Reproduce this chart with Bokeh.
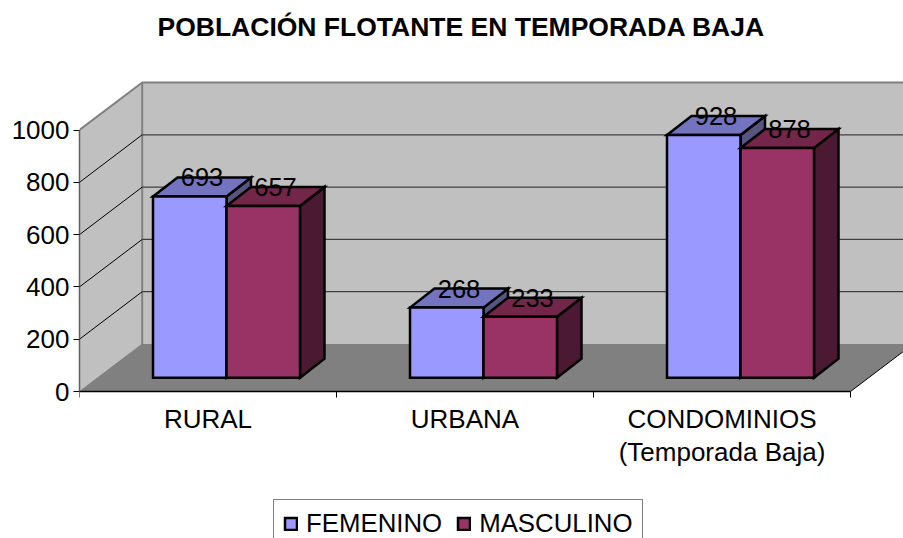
from bokeh.plotting import figure
from bokeh.embed import file_html
from bokeh.resources import INLINE
from bokeh.models import FixedTicker, Legend, LegendItem, Range1d, LinearAxis, Title
from bokeh.core.properties import value

TITLE = "POBLACIÓN FLOTANTE EN TEMPORADA BAJA"
categories = ["RURAL", "URBANA", "CONDOMINIOS\n(Temporada Baja)"]
femenino = [693, 268, 928]
masculino = [657, 233, 878]
y_ticks = [0, 200, 400, 600, 800, 1000]
series_names = ["FEMENINO", "MASCULINO"]

FONT = "Liberation Sans"
PX_X = 257.0      # px per category
PX_Y = 0.2615     # px per value unit
FRAME_W, FRAME_H = 824, 458
BELOW_ZERO = 147  # px of frame under the value 0

def dx(px):
    return px / PX_X

def dy(px):
    return px / PX_Y

WALL_DX, WALL_DY = dx(62.7), dy(47.5)
BAR_DX, BAR_DY = dx(24.5), dy(19)
BASE_DX, BASE_DY = dx(0), dy(13.8)
BAR_W = dx(73.5)
BAR_START = dx(73.5)

p = figure(width=903, height=538, output_backend="svg", toolbar_location=None,
           frame_width=FRAME_W, frame_height=FRAME_H,
           x_axis_location=None,
           x_range=Range1d(0, FRAME_W / PX_X), y_range=Range1d(-dy(BELOW_ZERO), dy(FRAME_H - BELOW_ZERO)),
           min_border_left=79, min_border_right=0, min_border_top=80, min_border_bottom=0,
           background_fill_color="white", border_fill_color="white")
p.outline_line_color = None
p.grid.visible = False

p.title.text = TITLE
p.title.text_font = FONT
p.title.text_font_style = "bold"
p.title.text_font_size = "26.5px"
p.title.text_color = "black"
p.title.align = "left"
p.title.offset = 78
p.title.standoff = 10
p.add_layout(Title(text=" ", text_font_size="26.5px", standoff=2), "above")

# Axes
xa = LinearAxis(fixed_location=0)
xa.bounds = (0, len(categories))
xa.ticker = FixedTicker(ticks=[i + 0.5 for i in range(len(categories))],
                        minor_ticks=list(range(len(categories) + 1)))
xa.major_label_overrides = {i + 0.5: c for i, c in enumerate(categories)}
xa.major_tick_out = 0
xa.major_tick_in = 0
xa.minor_tick_out = 6
xa.minor_tick_in = 0
xa.minor_tick_line_color = "black"
xa.axis_line_color = "black"
xa.axis_line_width = 1.5
xa.major_label_text_font = FONT
xa.major_label_text_font_size = "26px"
xa.major_label_text_color = "black"
xa.major_label_standoff = 6
xa.major_label_text_line_height = 1.12
p.add_layout(xa, "below")

ya = p.yaxis[0]
ya.bounds = (0, 1000)
ya.ticker = FixedTicker(ticks=y_ticks, minor_ticks=[])
ya.major_tick_out = 6
ya.major_tick_in = 0
ya.major_tick_line_color = "black"
ya.axis_line_color = "#606060"
ya.axis_line_width = 1.5
ya.major_label_text_font = FONT
ya.major_label_text_font_size = "26px"
ya.major_label_text_color = "black"
ya.major_label_standoff = 4

top = max(y_ticks)
n = len(categories)
x_end = FRAME_W / PX_X

# Walls and floor
p.patch([0, WALL_DX, WALL_DX, 0], [0, WALL_DY, top + WALL_DY, top],
        fill_color="#C0C0C0", line_color=None)
p.patch([WALL_DX, x_end, x_end, WALL_DX], [WALL_DY, WALL_DY, top + WALL_DY, top + WALL_DY],
        fill_color="#C0C0C0", line_color=None)
p.patch([0, n, n + WALL_DX, WALL_DX], [0, 0, WALL_DY, WALL_DY],
        fill_color="#808080", line_color=None)
p.line([0, WALL_DX, x_end], [top, top + WALL_DY, top + WALL_DY], line_color="#808080", line_width=2)
p.line([WALL_DX, WALL_DX], [WALL_DY, top + WALL_DY], line_color="#808080", line_width=2)
p.line([0, WALL_DX], [0, WALL_DY], line_color="#808080", line_width=1)
p.line([n, n + WALL_DX], [0, WALL_DY], line_color="black", line_width=1)

# Gridlines on the two walls
for v in y_ticks[1:-1]:
    p.line([0, WALL_DX], [v, v + WALL_DY], line_color="black", line_width=1)
    p.line([WALL_DX, x_end], [v + WALL_DY, v + WALL_DY], line_color="#404040", line_width=1.2)

styles = [
    dict(front="#9999FF", top="#7373BF", side="#555580"),
    dict(front="#993366", top="#732649", side="#4C1933"),
]
front_renderers = [None, None]
OUT = dict(line_color="black", line_width=2.5, line_join="miter")

for i in range(n):
    for s, vals in enumerate([femenino, masculino]):
        st = styles[s]
        v = vals[i]
        x0 = i + BAR_START + s * BAR_W + BASE_DX
        x1 = x0 + BAR_W
        b = BASE_DY
        t = b + v
        p.patch([x1, x1 + BAR_DX, x1 + BAR_DX, x1], [b, b + BAR_DY, t + BAR_DY, t],
                fill_color=st["side"], **OUT)
        p.patch([x0, x0 + BAR_DX, x1 + BAR_DX, x1], [t, t + BAR_DY, t + BAR_DY, t],
                fill_color=st["top"], **OUT)
        r = p.quad(left=[x0], right=[x1], bottom=[b], top=[t], fill_color=st["front"], **OUT)
        if front_renderers[s] is None:
            front_renderers[s] = r

# Data labels
for i in range(n):
    for s, vals in enumerate([femenino, masculino]):
        v = vals[i]
        x0 = i + BAR_START + s * BAR_W + BASE_DX
        p.text([x0 + BAR_W / 2 + BAR_DX / 2], [BASE_DY + v + BAR_DY], text=[str(v)],
               text_font=value(FONT), text_font_size=value("25.5px"), text_color="black",
               text_align="center", text_baseline="middle")

legend = Legend(items=[LegendItem(label=series_names[k], renderers=[front_renderers[k]]) for k in range(2)],
                orientation="horizontal", location=(194, -10),
                border_line_color="black", border_line_width=1, background_fill_alpha=1,
                label_text_font=FONT, label_text_font_size="25.8px", label_text_color="black",
                glyph_width=15, glyph_height=15, label_standoff=8, spacing=14,
                padding=9, margin=0, label_height=24, label_text_baseline="middle")
p.add_layout(legend, "center")

open("out.html", "w").write(file_html(p, INLINE))
